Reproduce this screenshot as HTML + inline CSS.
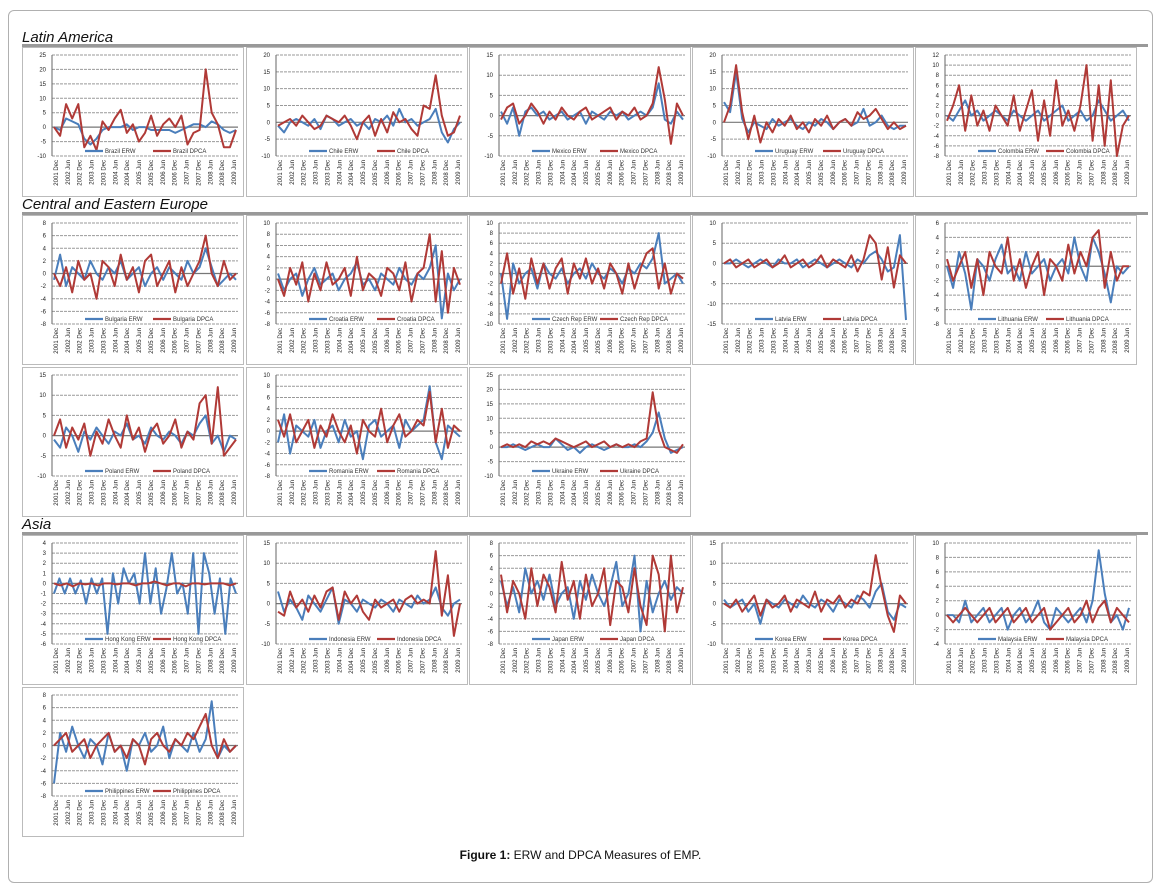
<!DOCTYPE html>
<html><head><meta charset="utf-8"><style>
body{margin:0;width:1161px;height:889px;background:#fff;font-family:"Liberation Sans",sans-serif;overflow:hidden}
#frame{position:absolute;left:8px;top:10px;width:1143px;height:871px;border:1px solid #b0b0b0;border-radius:6px}
.sec{position:absolute;left:22px;font-style:italic;font-size:15px;color:#111}
.rule{position:absolute;left:22px;width:1126px;height:3px;background:#999}
#cap{position:absolute;left:0;width:1161px;top:848px;text-align:center;font-size:12px;color:#111}
svg{position:absolute;left:0;top:0}
</style></head><body>
<div id="frame"></div>
<div class="sec" style="top:29px">Latin America</div>
<div class="rule" style="top:44px"></div>
<div class="sec" style="top:196px">Central and Eastern Europe</div>
<div class="rule" style="top:212px"></div>
<div class="sec" style="top:516px">Asia</div>
<div class="rule" style="top:532px"></div>
<div id="cap"><b>Figure 1:</b> ERW and DPCA Measures of EMP.</div>
<svg id="chart" width="1161" height="889"></svg>
<script>
const countries=["Brazil","Chile","Mexico","Uruguay","Colombia","Bulgaria","Croatia","Czech Rep","Latvia","Lithuania","Poland","Romania","Ukraine","Hong Kong","Indonesia","Japan","Korea","Malaysia","Philippines"];
const yMins=[-10,-10,-10,-10,-8,-8,-8,-10,-15,-8,-10,-8,-10,-6,-10,-8,-10,-4,-8];
const yMaxs=[25,20,15,20,12,8,10,10,10,6,15,10,25,4,15,8,15,10,8];
const ySteps=[5,5,5,5,2,2,2,2,5,2,5,2,5,1,5,2,5,2,2];
const xTickLabels=["2001 Dec","2002 Jun","2002 Dec","2003 Jun","2003 Dec","2004 Jun","2004 Dec","2005 Jun","2005 Dec","2006 Jun","2006 Dec","2007 Jun","2007 Dec","2008 Jun","2008 Dec","2009 Jun"];
const erw=[
[0,-1,3,2,1,-4,-6,-4,-1,0,0,0,1,-1,0,0,-1,-1,-1,-1,-2,-1,0,1,1,0,2,1,-1,-2,-1],
[-1,-3,0,1,0,-1,1,-2,2,1,-1,0,1,-1,0,-2,1,0,2,-1,4,0,1,-1,0,1,4,-3,-6,-2,0],
[1,-2,2,-5,1,2,0,1,-1,0,1,-1,0,1,-2,1,0,-1,1,0,1,-1,0,1,0,2,8,-1,-2,1,-1],
[6,3,15,1,-3,0,-1,-2,1,-1,0,1,-1,-2,0,-1,1,0,-2,0,1,-1,0,4,-1,0,2,-1,-2,-1,-1],
[0,-1,1,3,0,1,-1,0,1,0,-1,1,0,-1,0,1,-1,0,1,2,-1,0,1,-1,0,3,1,-1,0,1,-1],
[-1,3,-2,1,0,-1,2,0,-1,1,0,2,-1,0,1,-2,0,1,-1,1,0,-1,2,0,1,4,1,-2,-1,0,-1],
[1,-2,0,1,-3,0,2,-1,0,1,-2,0,1,3,-1,0,-2,1,0,-1,2,0,-1,1,0,2,6,-7,1,-2,0],
[0,-9,2,-2,0,1,-3,2,0,-1,1,-2,0,1,-1,2,0,-1,1,0,-2,1,0,2,1,3,8,-2,-1,0,-2],
[0,0,1,0,-1,0,1,0,-1,1,0,0,1,-1,0,1,0,-1,0,1,0,-1,1,0,2,3,1,-2,-1,7,-14],
[0,-3,2,-1,-6,1,0,-2,1,3,-1,0,-2,2,-1,0,1,-2,0,1,-1,4,0,-2,4,2,-1,-5,0,-1,0],
[-1,-3,2,0,-4,1,-1,2,0,-2,1,0,3,-1,0,-2,2,0,-1,1,0,-2,1,0,3,5,-2,0,-4,0,-1],
[-2,3,-4,1,0,-1,2,-3,0,1,-2,2,-1,0,-5,1,2,-1,0,1,-3,2,0,1,2,8,-2,-5,1,0,-1],
[0,0,1,0,-1,0,1,0,0,3,1,-1,0,-2,0,1,0,-1,0,1,0,0,1,0,2,5,12,3,-2,-1,0],
[-1,0.5,-1,0.5,-1,0.3,-2,0.5,-1,0.5,-5,1,-2,1.5,0,1,-2,3,-2,1.5,-3,-0.5,3,-1,0,-3,3,-5,3,1,-3,0.5,-5,0.5,-1],
[3,-2,1,-1,-4,2,0,-2,1,4,-5,1,0,-2,1,0,-1,1,0,-2,1,0,-1,2,0,1,4,-1,-3,0,1],
[2,-2,1,-3,4,0,2,-1,3,-2,0,1,-4,2,-1,3,0,-2,1,5,-2,0,6,-6,2,-3,0,2,-1,1,0],
[1,-1,0,1,-2,0,-5,1,0,-1,1,0,-1,2,0,-1,1,0,-2,1,0,-1,2,1,-1,3,5,-2,-4,0,-1],
[0,0,-1,2,-1,0,1,-1,0,1,-2,0,1,-1,0,2,-1,-2,1,0,-1,0,1,-1,2,9,3,-1,0,-2,1],
[-6,2,-1,3,0,-2,1,0,-3,2,-1,0,-4,1,0,2,-1,0,3,-2,1,0,-1,2,-1,1,7,-2,0,-1,0]];
const dpca=[
[0,-3,8,3,8,-7,-3,-8,2,-1,3,6,-2,1,-5,-2,4,-3,1,3,0,4,-6,-2,-1,20,5,1,-7,-7,-1],
[-1,0,1,-1,2,0,-2,-1,2,1,0,2,-1,-5,0,2,-4,1,-3,3,0,1,-2,-4,5,4,14,2,-4,-3,2],
[-1,2,3,-2,0,3,1,-2,1,-1,2,0,-1,1,2,-1,0,1,2,-1,1,0,2,-1,0,3,12,4,-7,3,0],
[0,5,17,3,-5,2,-6,0,-3,1,-1,2,-2,0,-3,1,-1,2,-2,0,1,-1,3,1,2,4,1,-2,0,-2,-1],
[-1,2,6,-3,4,-2,1,-3,2,0,-2,4,-3,1,5,-5,3,-4,7,-2,1,-3,2,10,-5,6,-6,7,-8,-2,0],
[0,-2,1,-3,2,-1,0,-4,2,1,-2,3,-1,1,-3,2,3,-2,0,2,-3,1,-2,0,2,6,0,-2,2,-1,0],
[0,-3,2,-1,3,-4,1,-2,3,-1,0,2,-3,4,-2,1,0,-3,2,1,-2,3,-4,1,2,8,-4,5,-6,2,-1],
[-2,4,-4,1,-5,3,-2,2,-3,1,3,-4,2,-1,3,-2,1,-3,2,0,-4,2,-3,1,4,5,-3,2,-4,0,-1],
[0,1,-1,0,1,-1,0,1,-1,0,2,-1,0,1,-1,0,2,-1,1,0,-1,2,-2,1,7,5,-4,4,-6,2,0],
[1,-2,0,2,-3,1,-4,2,0,-1,4,-2,1,-3,0,2,-4,1,0,-2,3,-1,2,0,4,5,-3,2,-2,0,0],
[0,4,-3,2,-1,3,-5,1,-2,4,0,-3,5,-1,2,-4,1,3,-2,0,4,-3,1,-1,8,10,-2,12,-5,-3,-1],
[2,-1,3,-2,0,2,-3,1,-1,3,0,-2,1,-4,2,0,-1,4,-2,1,3,-1,0,2,1,7,-2,4,-3,1,0],
[0,1,0,1,0,2,1,2,1,3,2,1,0,1,2,0,1,2,0,1,0,1,0,2,3,19,6,0,-1,-2,1],
[0,-0.2,0,-0.3,0,-0.1,0,-0.2,0,0,-0.1,0,0,-0.2,0,0,0.2,0,-0.2,0,0,-0.3,0,0,-0.1,0,0,0,-0.2,0],
[-2,-3,3,-1,1,-2,2,-1,3,4,-4,3,0,2,-2,-4,1,-1,0,1,-2,1,2,0,1,0,13,-3,7,-8,0],
[3,-3,2,0,-4,4,-2,3,1,-3,5,-1,2,-4,3,-2,0,4,-5,2,1,-3,4,-2,-5,6,3,-6,6,-3,1],
[0,-1,1,-2,0,2,-3,1,-1,0,2,-2,1,0,-1,3,-2,1,0,2,-1,1,0,3,2,12,4,-3,-7,2,0],
[0,-1,0,1,0,-1,0,1,-1,0,1,-1,0,1,-1,0,1,-2,-1,0,1,-1,0,2,-1,1,2,-1,1,0,-1],
[0,1,2,-1,0,1,-2,0,1,2,-1,0,-2,1,0,-3,1,2,0,-1,1,0,2,1,3,5,0,-2,1,-1,0]];

const NS="http://www.w3.org/2000/svg";
const svg=document.getElementById("chart");
const colX=[22,246,469,692,915], rowY=[47,215,367,535,687];
const slots=[[0,0],[0,1],[0,2],[0,3],[0,4],[1,0],[1,1],[1,2],[1,3],[1,4],[2,0],[2,1],[2,2],[3,0],[3,1],[3,2],[3,3],[3,4],[4,0]];
function mk(tag,attrs,parent){const e=document.createElementNS(NS,tag);for(const k in attrs)e.setAttribute(k,attrs[k]);parent.appendChild(e);return e;}
const BLUE="#4a7ebb",RED="#b03a37";
countries.forEach((c,i)=>{
  const px=colX[slots[i][1]],py=rowY[slots[i][0]],W=222,H=150;
  const g=mk("g",{},svg);
  
  
  mk("rect",{x:px+0.5,y:py+0.5,width:W-1,height:H-1,fill:"#fff",stroke:"#bbb"},g);
  const L=px+30,R=px+W-6,T=py+8,B=py+109;
  const y=v=>B-(v-yMins[i])/(yMaxs[i]-yMins[i])*(B-T);
  for(let v=yMins[i];v<=yMaxs[i]+1e-9;v+=ySteps[i]){
    const gl=mk("line",{x1:L,x2:R,y1:y(v),y2:y(v),stroke:v===0?"#777":"#999","stroke-width":v===0?1.2:1,"stroke-dasharray":v===0?"":"3,1"},g);
    
    
    const t=mk("text",{x:L-6,y:y(v)+2,"font-size":6,"text-anchor":"end",fill:"#222"},g);
    t.textContent=v;
    
    
  }
  mk("line",{x1:L,x2:L,y1:T,y2:B,stroke:"#666"},g);
  xTickLabels.forEach((lb,k)=>{
    const xx=L+4+k*(R-L-8)/(xTickLabels.length-1);
    const t=mk("text",{x:xx+2,y:B+4,"font-size":6,"text-anchor":"end",fill:"#222",transform:`rotate(-90 ${xx+2} ${B+4})`},g);
    t.textContent=lb;
    
    
  });
  [[erw[i],BLUE,"erw"],[dpca[i],RED,"dpca"]].forEach(([arr,col,nm])=>{
    const n=arr.length;
    const pts=arr.map((v,k)=>(L+2+k*(R-L-4)/(n-1)).toFixed(1)+","+y(v).toFixed(1)).join(" ");
    const pl=mk("polyline",{points:pts,fill:"none",stroke:col,"stroke-width":2,"stroke-linejoin":"round"},g);
    
    
  });
  const ly=B-5,lx=L+(R-L)/2;
  [[lx-60,BLUE,c+" ERW"],[lx+8,RED,c+" DPCA"]].forEach(([x0,col,txt])=>{
    mk("line",{x1:x0,x2:x0+18,y1:ly,y2:ly,stroke:col,"stroke-width":2.2},g);
    const t=mk("text",{x:x0+20,y:ly+2,"font-size":6,fill:"#333"},g);
    t.textContent=txt;
    
    
  });
});
</script>
</body></html>
